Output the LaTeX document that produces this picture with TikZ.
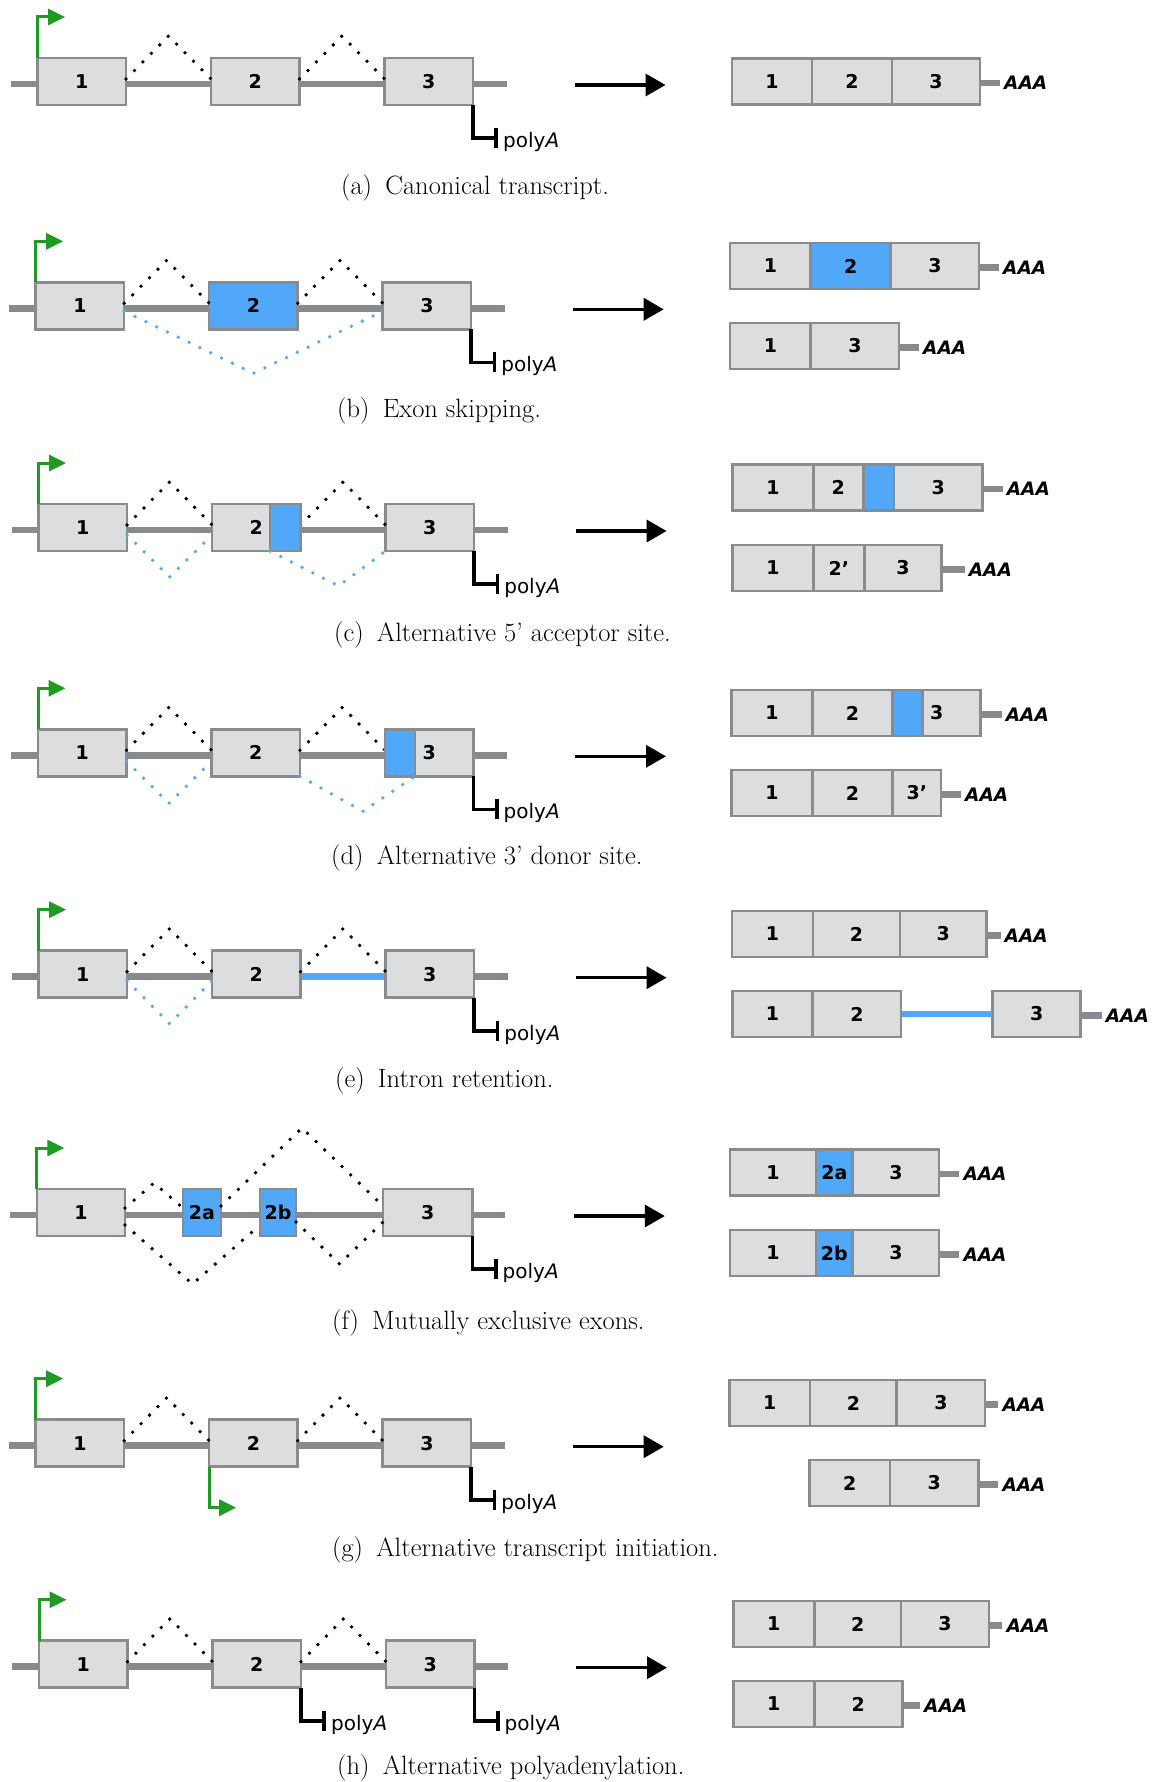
\documentclass[tikz,border=0pt]{standalone}
\usepackage{fontspec}
\newfontfamily\numfont{DejaVu Sans}
\usetikzlibrary{arrows.meta,calc}
\definecolor{exongray}{HTML}{DCDDDF}
\definecolor{exonborder}{HTML}{8A8B8F}
\definecolor{exonblue}{HTML}{52A8F8}
\definecolor{bbgray}{HTML}{888A8D}
\definecolor{promgreen}{HTML}{1F9A22}
\definecolor{dotblue}{HTML}{55A9F5}
\tikzset{
  exon/.style={draw=exonborder, fill=exongray, line width=2.5pt, inner sep=0pt, outer sep=0pt,
    minimum height=47pt, font=\numfont\bfseries\fontsize{19}{22}\selectfont},
  numlabel/.style={inner sep=0pt, font=\numfont\bfseries\fontsize{19}{22}\selectfont},
  backbone/.style={line width=6.5pt, draw=bbgray},
  mtail/.style={line width=6.5pt, draw=bbgray, shorten <=1.2pt},
  splicedots/.style={draw=black, line width=3.8pt, dash pattern=on 0pt off 12pt, line cap=round},
  bsplicedots/.style={draw=dotblue, line width=3.8pt, dash pattern=on 0pt off 12pt, line cap=round},
  promline/.style={draw=promgreen, line width=3pt, -{Triangle[length=17pt,width=16pt]}},
  polyAline/.style={draw=black, line width=3.6pt, -{Bar[width=20pt,line width=3.6pt]}},
  polytxt/.style={anchor=base west, inner sep=0pt, font=\numfont\fontsize{20}{23}\selectfont},
  aaa/.style={anchor=west, inner sep=0pt, font=\numfont\bfseries\itshape\fontsize{18.5}{21}\selectfont},
  bigarrow/.style={draw=black, line width=3.5pt, -{Triangle[length=20pt,width=22pt]}},
  captext/.style={anchor=west, inner sep=0pt, font=\fontsize{26.5}{31}\selectfont},
}
\newcommand\mkrbox[6]{%
  \pgfmathsetmacro\rbcx{(#2+#3)/2}%
  \pgfmathsetmacro\rbw{#3-#2}%
  \node[exon, #6, minimum width=\rbw pt, minimum height=46pt] (#1) at (\rbcx,#4) {#5};}
\newcommand\tailAAA[3]{%
  \draw[mtail] ($(#1.east)+(0,1.5)$) -- ++(#2,0) coordinate (#3e);
  \node[aaa] (#3) at ($(#3e)+(4,0)$) {AAA};}
\newcommand\genepanel[4]{%
  \begin{scope}[shift={(#2,#3)}]
    \coordinate (#1L) at (-27,0);
    \coordinate (#1R) at (469,0);
    \draw[backbone] (#1L) -- (#1R);
    \node[exon, minimum width=88.5pt] (#11) at (44.25,-2.5) {1};
    \node[exon, #4, minimum width=88.5pt] (#12) at (217.75,-2.5) {2};
    \node[exon, minimum width=88.5pt] (#13) at (391.25,-2.5) {3};
    \draw[promline] (#11.north west) -- ++(0,-41) -- ++(27.5,0);
    \draw[polyAline] (#13.south east) -- ++(0,33) -- ++(25,0) coordinate (#1pe);
    \node[polytxt] (#1pt) at ($(#1pe)+(5,9.5)$) {poly\textit{A}};
    \draw[splicedots] ($(#11.east)+(0,-2.5)$) -- ($(#11.east)!0.5!(#12.west)+(0,-45.5)$) -- ($(#12.west)+(0,-2.5)$);
    \draw[splicedots] ($(#12.east)+(0,-2.5)$) -- ($(#12.east)!0.5!(#13.west)+(0,-45.5)$) -- ($(#13.west)+(0,-2.5)$);
    \coordinate (#1as) at (537,1);
    \coordinate (#1ae) at (628,1);
    \draw[bigarrow] (#1as) -- (#1ae);
  \end{scope}}
\begin{document}
\begin{tikzpicture}[x=1pt,y=-1pt]
\fill[white] (0,0) rectangle (1154,1782);
\useasboundingbox (0,0) rectangle (1154,1782);

% ---------- (a) ----------
\genepanel{a}{37.5}{84}{}
\mkrbox{ra1}{732}{812}{81.7}{1}{}
\mkrbox{ra2}{812}{892}{81.7}{2}{}
\mkrbox{ra3}{892}{980}{81.7}{3}{}
\tailAAA{ra3}{20}{raA}
\node[captext] (capa) at (341,188) {(a)\hspace{0.5em}Canonical transcript.};

% ---------- (b) ----------
\genepanel{b}{35.7}{308.3}{fill=exonblue}
\draw[bsplicedots] ($(b1.east)+(0,5.5)$) -- ($(b2.south)+(0,44)$) -- ($(b3.west)+(0,5.5)$);
\mkrbox{rb1}{730}{810.7}{266}{1}{}
\mkrbox{rb2}{810.7}{890.7}{266}{2}{fill=exonblue}
\mkrbox{rb3}{890.7}{979}{266}{3}{}
\tailAAA{rb3}{20}{rbA}
\mkrbox{rb4}{730}{810.7}{346}{1}{}
\mkrbox{rb5}{810.7}{899}{346}{3}{}
\tailAAA{rb5}{20}{rbB}
\node[captext] (capb) at (337,411) {(b)\hspace{0.5em}Exon skipping.};

% ---------- (c) ----------
\genepanel{c}{38.6}{530}{}
\node[exon, fill=exonblue, minimum width=30.5pt] (c2b) at (285.35,527.5) {};
\draw[bsplicedots] ($(c1.east)+(0,7.5)$) -- ($(c1.east)!0.5!(c2.west)+(0,49.5)$) -- ($(c2.west)+(0,7.5)$);
\draw[bsplicedots] (c2b.south west) -- ($(c2b.south west)+(68.5,35)$) -- (c3.south west);
\mkrbox{rc1}{732.7}{813.3}{487.5}{1}{}
\mkrbox{rc2}{813.3}{894}{487.5}{}{}
\node[numlabel] (rc2l) at (838.3,487.5) {2};
\mkrbox{rc2b}{863.3}{894}{487.5}{}{fill=exonblue}
\mkrbox{rc3}{894}{982.3}{487.5}{3}{}
\tailAAA{rc3}{20.4}{rcA}
\mkrbox{rc4}{732.7}{813.3}{568}{1}{}
\mkrbox{rc5}{813.3}{864.3}{568}{2’}{}
\mkrbox{rc6}{864.3}{941.7}{568}{3}{}
\tailAAA{rc6}{23}{rcB}
\node[captext] (capc) at (334,635) {(c)\hspace{0.5em}Alternative 5' acceptor site.};

% ---------- (d) ----------
\genepanel{d}{38}{755.3}{}
\node[exon, fill=exonblue, minimum width=30pt] (d3b) at (400,752.8) {};
\draw[bsplicedots] ($(d1.east)+(0,8.5)$) -- ($(d1.east)!0.5!(d2.west)+(0,50.5)$) -- ($(d2.west)+(0,8.5)$);
\draw[bsplicedots] (d2.south east) -- ($(d2.south east)+(63,35)$) -- (d3b.south east);
\mkrbox{rd1}{731.7}{812.3}{713}{1}{}
\mkrbox{rd2}{812.3}{892.7}{713}{2}{}
\mkrbox{rd3}{892.7}{980.7}{713}{3}{}
\mkrbox{rd3b}{892.7}{922.3}{713}{}{fill=exonblue}
\tailAAA{rd3}{21}{rdA}
\mkrbox{rd4}{731.7}{812.3}{793}{1}{}
\mkrbox{rd5}{812.3}{892.7}{793}{2}{}
\mkrbox{rd6}{892.7}{941}{793}{3’}{}
\tailAAA{rd6}{20}{rdB}
\node[captext] (capd) at (331,858) {(d)\hspace{0.5em}Alternative 3' donor site.};

% ---------- (e) ----------
\genepanel{e}{38.6}{976.7}{}
\draw[backbone, draw=exonblue, shorten <=1.2pt, shorten >=1.2pt] ($(e2.east)+(0,2.5)$) -- ($(e3.west)+(0,2.5)$);
\draw[bsplicedots] ($(e1.east)+(0,6.5)$) -- ($(e1.east)!0.5!(e2.west)+(0,49.5)$) -- ($(e2.west)+(0,6.5)$);
\mkrbox{re1}{732}{813}{934}{1}{}
\mkrbox{re2}{813}{900}{934}{2}{}
\mkrbox{re3}{900}{986.5}{934}{3}{}
\tailAAA{re3}{14}{reA}
\mkrbox{re4}{732.3}{812.7}{1014}{1}{}
\mkrbox{re5}{812.7}{901}{1014}{2}{}
\mkrbox{re6}{992.7}{1080.7}{1014}{3}{}
\draw[backbone, draw=exonblue, shorten <=1.2pt, shorten >=1.2pt] (re5.east) -- (re6.west);
\tailAAA{re6}{21}{reB}
\node[captext] (cape) at (335,1081) {(e)\hspace{0.5em}Intron retention.};

% ---------- (f) ----------
\begin{scope}[shift={(36.8,1215)}]
  \coordinate (fL) at (-27,0);
  \coordinate (fR) at (468,0);
  \draw[backbone] (fL) -- (fR);
  \node[exon, minimum width=88.2pt] (f1) at (44.1,-2.5) {1};
  \node[exon, fill=exonblue, minimum width=38pt] (f2a) at (165.2,-2.5) {2a};
  \node[exon, fill=exonblue, minimum width=36pt] (f2b) at (241.2,-2.5) {2b};
  \node[exon, minimum width=89.5pt] (f3) at (390.95,-2.5) {3};
  \draw[promline] (f1.north west) -- ++(0,-41) -- ++(27.5,0);
  \draw[polyAline] (f3.south east) -- ++(0,33) -- ++(25,0) coordinate (fpe);
  \node[polytxt] (fpt) at ($(fpe)+(5,9.5)$) {poly\textit{A}};
  \draw[splicedots] ($(f1.east)+(0,-4.5)$) -- ($(f1.east)!0.5!(f2a.west)+(0,-29.5)$) -- ($(f2a.west)+(0,-4.5)$);
  \draw[splicedots] ($(f2a.east)+(0,-6.5)$) -- ($(f2a.east)!0.5!(f3.west)+(0,-84.5)$) -- ($(f3.west)+(0,-6.5)$);
  \draw[splicedots] ($(f1.east)+(0,12.5)$) -- ($(f1.east)!0.5!(f2b.west)+(0,71.5)$) -- ($(f2b.west)+(0,12.5)$);
  \draw[splicedots] ($(f2b.east)+(0,9.5)$) -- ($(f2b.east)!0.5!(f3.west)+(0,51.5)$) -- ($(f3.west)+(0,9.5)$);
  \coordinate (fas) at (537,1);
  \coordinate (fae) at (628,1);
  \draw[bigarrow] (fas) -- (fae);
\end{scope}
\mkrbox{rf1}{730}{816}{1172.5}{1}{}
\mkrbox{rf2}{816}{852.7}{1172.5}{2a}{fill=exonblue}
\mkrbox{rf3}{852.7}{939}{1172.5}{3}{}
\tailAAA{rf3}{20.3}{rfA}
\mkrbox{rf4}{730}{816}{1253}{1}{}
\mkrbox{rf5}{816}{852.7}{1253}{2b}{fill=exonblue}
\mkrbox{rf6}{852.7}{939}{1253}{3}{}
\tailAAA{rf6}{20.3}{rfB}
\node[captext] (capf) at (332,1323) {(f)\hspace{0.5em}Mutually exclusive exons.};

% ---------- (g) ----------
\genepanel{g}{35.7}{1445.7}{}
\draw[promline] (g2.south west) -- ++(0,41) -- ++(27,0);
\mkrbox{rg1}{729.3}{810}{1403}{1}{}
\mkrbox{rg2}{810}{896.7}{1403}{2}{}
\mkrbox{rg3}{896.7}{985}{1403}{3}{}
\tailAAA{rg3}{13.3}{rgA}
\mkrbox{rg4}{809.3}{890}{1483}{2}{}
\mkrbox{rg5}{890}{978.3}{1483}{3}{}
\tailAAA{rg5}{20}{rgB}
\node[captext] (capg) at (332,1550) {(g)\hspace{0.5em}Alternative transcript initiation.};

% ---------- (h) ----------
\genepanel{h}{39}{1666.7}{}
\draw[polyAline] (h2.south east) -- ++(0,33) -- ++(25,0) coordinate (hpe2);
\node[polytxt] (hpt2) at ($(hpe2)+(5,9.5)$) {poly\textit{A}};
\mkrbox{rh1}{733.3}{814.3}{1624}{1}{}
\mkrbox{rh2}{814.3}{901}{1624}{2}{}
\mkrbox{rh3}{901}{989}{1624}{3}{}
\tailAAA{rh3}{13.3}{rhA}
\mkrbox{rh4}{733.3}{814.3}{1704}{1}{}
\mkrbox{rh5}{814.3}{902.3}{1704}{2}{}
\tailAAA{rh5}{17.7}{rhB}
\node[captext] (caph) at (337,1768) {(h)\hspace{0.5em}Alternative polyadenylation.};
\end{tikzpicture}
\end{document}
